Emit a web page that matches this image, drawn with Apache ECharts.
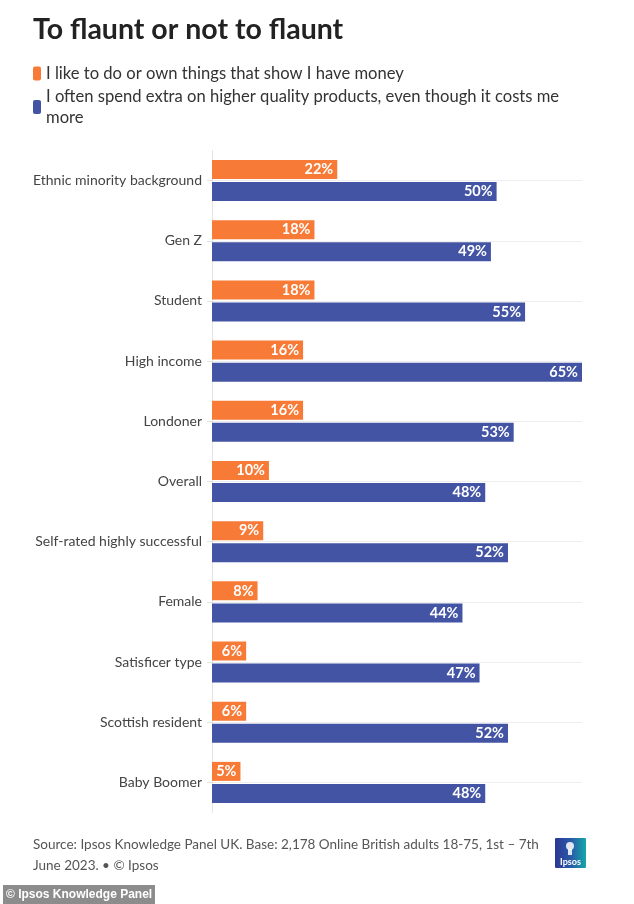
<!DOCTYPE html>
<html>
<head>
<meta charset="utf-8">
<script src="https://cdn.jsdelivr.net/npm/echarts@6/dist/echarts.min.js"></script>
<style>
html,body{margin:0;padding:0;background:#fff;}
#chart{width:634px;height:904px;}
</style>
</head>
<body>
<div id="chart"></div>
<script>
var categories = ["Ethnic minority background","Gen Z","Student","High income","Londoner","Overall","Self-rated highly successful","Female","Satisficer type","Scottish resident","Baby Boomer"];
var flauntValues = [22,18,18,16,16,10,9,8,6,6,5];
var qualityValues = [50,49,55,65,53,48,52,44,47,52,48];
var seriesNames = ["I like to do or own things that show I have money","I often spend extra on higher quality products, even though it costs me more"];
var legendLabels = ["I like to do or own things that show I have money","I often spend extra on higher quality products, even though it costs me\nmore"];

var FONT = 'Lato, "Noto Sans", sans-serif';
var chart = echarts.init(document.getElementById('chart'));
var option = {
  backgroundColor: '#fff',
  animation: false,
  title: {
    text: 'To flaunt or not to flaunt',
    left: 28, top: 10,
    textStyle: {fontFamily: FONT, fontSize: 28.5, fontWeight: 'bold', color: '#222'}
  },
  legend: {
    orient: 'vertical',
    left: 28, top: 58,
    itemWidth: 8, itemHeight: 14, itemGap: 2,
    icon: 'roundRect',
    selectedMode: false,
    data: seriesNames,
    formatter: function(n){ return legendLabels[seriesNames.indexOf(n)]; },
    textStyle: {fontFamily: FONT, fontSize: 16.6, lineHeight: 21, color: '#333'}
  },
  grid: {left: 212, right: 52, top: 150.5, bottom: 91.5, containLabel: false},
  xAxis: {
    type: 'value', min: 0, max: 65, show: false
  },
  yAxis: {
    type: 'category', inverse: true, data: categories,
    axisLine: {show: true, lineStyle: {color: '#e3e3e3', width: 1}},
    axisTick: {show: true, alignWithLabel: true, length: 5, lineStyle: {color: '#e3e3e3'}},
    axisLabel: {fontFamily: FONT, fontSize: 14, color: '#444', margin: 10},
    splitLine: {show: true, alignWithLabel: true, lineStyle: {color: '#eeeeee', width: 1}}
  },
  series: [
    {
      name: seriesNames[0], type: 'bar', data: flauntValues,
      barWidth: 19, barGap: '16%',
      itemStyle: {color: '#f77a36'},
      label: {show: true, position: 'insideRight', distance: 4, formatter: '{c}%',
        fontFamily: FONT, fontSize: 14.5, fontWeight: 'bold', color: '#fff'}
    },
    {
      name: seriesNames[1], type: 'bar', data: qualityValues,
      barWidth: 19,
      itemStyle: {color: '#4354a4'},
      label: {show: true, position: 'insideRight', distance: 4, formatter: '{c}%',
        fontFamily: FONT, fontSize: 14.5, fontWeight: 'bold', color: '#fff'}
    }
  ],
  graphic: [
    {
      type: 'text', left: 33, top: 834,
      style: {
        text: 'Source: Ipsos Knowledge Panel UK. Base: 2,178 Online British adults 18-75, 1st – 7th\nJune 2023. • © Ipsos',
        fontFamily: FONT, fontSize: 13.5, lineHeight: 21, fill: '#555'
      }
    },
    {
      type: 'group', left: 555, top: 838,
      children: [
        {type: 'rect', shape: {x: 0, y: 0, width: 31, height: 30, r: 1},
          style: {fill: new echarts.graphic.LinearGradient(0,0,1,0,[{offset:0,color:'#2b3894'},{offset:0.5,color:'#2a58a8'},{offset:1,color:'#14a7a8'}])}},
        {type: 'circle', shape: {cx: 15, cy: 8, r: 4}, style: {fill: '#fff', opacity: 0.85}},
        {type: 'rect', shape: {x: 13, y: 11, width: 4, height: 6}, style: {fill: '#fff', opacity: 0.85}},
        {type: 'text', x: 15.5, y: 24, style: {text: 'Ipsos', fontFamily: FONT, fontSize: 9, fontWeight: 'bold', fill: '#fff', align: 'center', verticalAlign: 'middle'}}
      ]
    },
    {
      type: 'group', left: 3, top: 885,
      children: [
        {type: 'rect', shape: {x: 0, y: 0, width: 152, height: 19}, style: {fill: '#8c8c8c'}},
        {type: 'text', x: 3, y: 10, style: {text: '© Ipsos Knowledge Panel', fontFamily: '"Liberation Sans", Arial, sans-serif', fontSize: 12, fontWeight: 'bold', fill: '#fff', verticalAlign: 'middle'}}
      ]
    }
  ]
};
chart.setOption(option);
</script>
</body>
</html>
